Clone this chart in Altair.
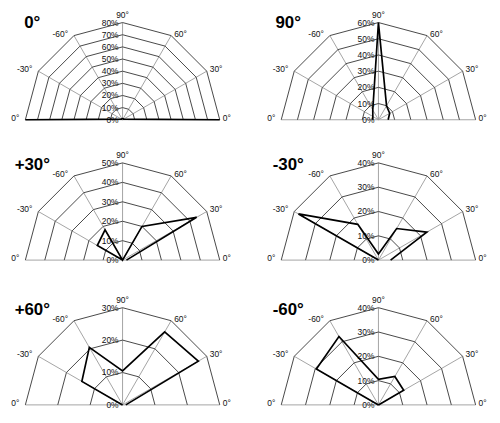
import altair as alt
import pandas as pd

# ---- data ----
categories = ["0°", "-30°", "-60°", "90°", "60°", "30°", "0°"]
angles = [180, 150, 120, 90, 60, 30, 0]
panel_titles = ["0°", "90°", "+30°", "-30°", "+60°", "-60°"]
scale_max = [80, 60, 50, 40, 30, 40]
ring_step = 10

values_0 = [80, 1, 1, 1, 1, 1, 80]
values_90 = [3.5, 4, 7, 60, 10, 8, 6]
values_p30 = [0, 15, 18, 0, 20, 44, 2]
values_m30 = [0, 38, 17, 2.5, 15, 23, 5]
values_p60 = [0, 14.5, 20.5, 10.5, 26, 27, 1]
values_m60 = [0, 29.5, 32.5, 10.5, 13.5, 12, 0]
series = [values_0, values_90, values_p30, values_m30, values_p60, values_m60]

# ---- layout (pixels) ----
R = 98.0
CX = 115.5
col_widths = [258, 230]
row_heights = [152, 146, 108]
row_cy = [110, 99.5, 99.5]
row_title_y = [17, 9, 9]
FONT = "Liberation Sans"
TXT = "#111111"


def polar(ch, field, vmax):
    return ch.transform_calculate(
        px=f"datum.{field} / {vmax} * cos(datum.angle * PI / 180)",
        py=f"datum.{field} / {vmax} * sin(datum.angle * PI / 180)",
    )


def panel(i, W, H, CY, TY):
    vmax = scale_max[i]
    vals = series[i]
    xs = alt.Scale(domain=[-CX / R, (W - CX) / R], nice=False, zero=False)
    ys = alt.Scale(domain=[-(H - CY) / R, CY / R], nice=False, zero=False)
    X = alt.X("px:Q", scale=xs, axis=None)
    Y = alt.Y("py:Q", scale=ys, axis=None)

    line_df = pd.DataFrame({"cat": categories, "angle": angles, "value": vals,
                            "order": list(range(len(angles)))})
    ring_rows = []
    for k in range(1, vmax // ring_step + 1):
        for j, a in enumerate(angles):
            ring_rows.append({"level": k * ring_step, "angle": a, "order": j})
    ring_df = pd.DataFrame(ring_rows)
    spoke_df = pd.DataFrame({"angle": angles, "cat": categories, "level": [vmax] * len(angles)})
    tick_levels = list(range(0, vmax + 1, ring_step))
    tick_df = pd.DataFrame({"level": tick_levels, "angle": [90] * len(tick_levels),
                            "label": [f"{v}%" for v in tick_levels]})

    rings = polar(alt.Chart(ring_df), "level", vmax).mark_line(
        color="#484848", strokeWidth=1.0
    ).encode(x=X, y=Y, detail="level:N", order="order:Q")

    spokes = polar(alt.Chart(spoke_df), "level", vmax).transform_calculate(
        z="0"
    ).mark_rule(color="#9a9a9a", strokeWidth=0.9).encode(
        x=alt.X("z:Q", scale=xs, axis=None), y=alt.Y("z:Q", scale=ys, axis=None),
        x2="px:Q", y2="py:Q")

    data_line = polar(alt.Chart(line_df), "value", vmax).mark_line(
        color="#000000", strokeWidth=1.7, strokeJoin="miter"
    ).encode(x=X, y=Y, order="order:Q")

    ticks = polar(alt.Chart(tick_df), "level", vmax).mark_text(
        align="right", baseline="middle", dx=-4, fontSize=8.5, font=FONT, color=TXT
    ).encode(x=X, y=Y, text="label:N")

    base_lab = polar(alt.Chart(spoke_df), "level", vmax)
    lab_left = base_lab.transform_filter("datum.angle > 90").mark_text(
        align="right", baseline="middle", dx=-6, dy=-2, fontSize=8.5, font=FONT, color=TXT
    ).encode(x=X, y=Y, text="cat:N")
    lab_right = base_lab.transform_filter("datum.angle < 90").mark_text(
        align="left", baseline="middle", dx=3, dy=-2, fontSize=8.5, font=FONT, color=TXT
    ).encode(x=X, y=Y, text="cat:N")
    lab_top = base_lab.transform_filter("datum.angle == 90").mark_text(
        align="center", baseline="middle", dy=-8, fontSize=8.5, font=FONT, color=TXT
    ).encode(x=X, y=Y, text="cat:N")

    title = alt.Chart(pd.DataFrame({"t": [panel_titles[i]]})).mark_text(
        align="center", baseline="alphabetic", fontSize=17, fontWeight="bold",
        font=FONT, color="#000000"
    ).encode(x=alt.value(CX - 91), y=alt.value(TY), text="t:N")

    return alt.layer(spokes, rings, ticks, data_line, lab_left, lab_right, lab_top, title
                     ).properties(width=W, height=H)


cells = []
for r in range(3):
    for c in range(2):
        cells.append(panel(r * 2 + c, col_widths[c], row_heights[r], row_cy[r], row_title_y[r]))

chart = alt.concat(*cells, columns=2, spacing=0, bounds="flush").resolve_scale(
    x="independent", y="independent"
).properties(
    padding=0,
    background="white",
).configure_view(stroke=None)

chart.save("out.html", embed_options={"renderer": "svg", "actions": False})
